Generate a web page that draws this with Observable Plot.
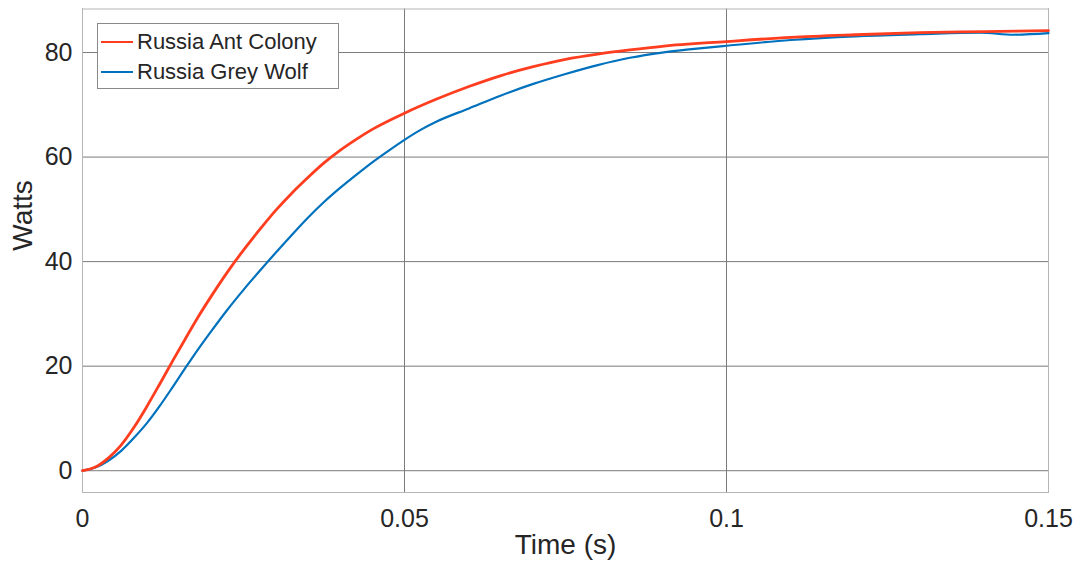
<!DOCTYPE html>
<html>
<head>
<meta charset="utf-8">
<script src="https://cdn.jsdelivr.net/npm/d3@7"></script>
<script src="https://cdn.jsdelivr.net/npm/@observablehq/plot@0.6"></script>
<style>
  html, body { margin: 0; padding: 0; background: #fff; }
  #wrap { position: relative; width: 1080px; height: 573px; font-family: "Liberation Sans", Arial, sans-serif; }
  #legend { position: absolute; left: 97px; top: 23px; width: 240px; height: 64px; border: 1px solid #8a8a8a; background: #fff; box-sizing: content-box; }
  .item { position: absolute; left: 0; height: 30px; width: 240px; }
  .sw { position: absolute; left: 3px; width: 32px; height: 2px; }
  .lab { position: absolute; left: 39px; font-size: 22px; color: #262626; line-height: 30px; white-space: nowrap; }
</style>
</head>
<body>
<div id="wrap"></div>
<script>
// ---- data ----
const seriesNames = ["Russia Ant Colony", "Russia Grey Wolf"];
const seriesColors = ["#ff3d1f", "#0072bd"];

const timeAnt  = [0, 0.002, 0.004, 0.006, 0.008, 0.010, 0.012, 0.014, 0.016, 0.018, 0.020, 0.0225, 0.025, 0.0275, 0.030, 0.0325, 0.035, 0.0375, 0.040, 0.0425, 0.045, 0.050, 0.055, 0.060, 0.065, 0.070, 0.075, 0.080, 0.085, 0.090, 0.100, 0.110, 0.120, 0.130, 0.140, 0.150];
const wattsAnt = [0, 0.7, 2.4, 4.9, 8.3, 12.3, 16.6, 21.0, 25.3, 29.5, 33.4, 38.0, 42.2, 46.1, 49.8, 53.1, 56.1, 58.9, 61.3, 63.4, 65.3, 68.4, 71.1, 73.5, 75.6, 77.3, 78.7, 79.7, 80.5, 81.2, 82.1, 82.9, 83.4, 83.8, 84.0, 84.2];

const timeWolf  = [0, 0.002, 0.004, 0.006, 0.008, 0.010, 0.012, 0.014, 0.016, 0.018, 0.020, 0.0225, 0.025, 0.0275, 0.030, 0.0325, 0.035, 0.0375, 0.040, 0.0425, 0.045, 0.0475, 0.050, 0.0525, 0.055, 0.060, 0.065, 0.070, 0.075, 0.080, 0.085, 0.090, 0.095, 0.100, 0.110, 0.120, 0.130, 0.1394, 0.1446, 0.150];
const wattsWolf = [0, 0.6, 1.9, 3.8, 6.3, 9.1, 12.4, 16.0, 19.7, 23.3, 26.7, 30.8, 34.6, 38.2, 41.7, 45.1, 48.4, 51.4, 54.1, 56.6, 59.0, 61.2, 63.3, 65.2, 66.8, 69.3, 71.8, 74.0, 75.9, 77.6, 79.0, 80.0, 80.7, 81.3, 82.4, 83.1, 83.5, 83.8, 83.4, 83.7];

const xTicks = [0, 0.05, 0.1, 0.15];
const xTickLabels = ["0", "0.05", "0.1", "0.15"];
const yTicks = [0, 20, 40, 60, 80];
const xLabel = "Time (s)";
const yLabel = "Watts";

// ---- build tables ----
const ant = timeAnt.map((t, i) => ({t, w: wattsAnt[i]}));
const wolf = timeWolf.map((t, i) => ({t, w: wattsWolf[i]}));

const textColor = "#262626";
const gridColor = "#7a7a7a";

const chart = Plot.plot({
  width: 1080,
  height: 573,
  marginLeft: 82,
  marginRight: 32,
  marginTop: 8.5,
  marginBottom: 81,
  style: {fontFamily: "'Liberation Sans', Arial, sans-serif", background: "#fff", color: textColor, overflow: "visible"},
  x: {domain: [0, 0.15], label: null},
  y: {domain: [-4.17, 88.33], label: null},
  marks: [
    Plot.gridX(xTicks, {stroke: gridColor, strokeOpacity: 1, strokeWidth: 1}),
    Plot.gridY(yTicks, {stroke: gridColor, strokeOpacity: 1, strokeWidth: 1}),
    Plot.frame({stroke: "#b5b5b5", strokeWidth: 1}),
    Plot.axisX(xTicks, {tickSize: 0, tickPadding: 17, fontSize: 25, fill: textColor, label: null,
      tickFormat: (d) => xTickLabels[xTicks.indexOf(d)]}),
    Plot.axisY(yTicks, {tickSize: 0, tickPadding: 10, fontSize: 25, fill: textColor, label: null}),
    Plot.line(wolf, {x: "t", y: "w", stroke: seriesColors[1], strokeWidth: 2.2, curve: "monotone-x"}),
    Plot.line(ant, {x: "t", y: "w", stroke: seriesColors[0], strokeWidth: 2.8, curve: "monotone-x"}),
    Plot.text([xLabel], {frameAnchor: "bottom", dy: 61, fontSize: 28, fill: textColor}),
    Plot.text([yLabel], {frameAnchor: "left", dx: -59.5, rotate: -90, fontSize: 28, fill: textColor})
  ]
});

const wrap = document.getElementById("wrap");
wrap.appendChild(chart);

// legend overlay
const legend = document.createElement("div");
legend.id = "legend";
seriesNames.forEach((name, i) => {
  const item = document.createElement("div");
  item.className = "item";
  item.style.top = (3 + i * 30) + "px";
  const sw = document.createElement("div");
  sw.className = "sw";
  sw.style.top = "14px";
  sw.style.background = seriesColors[i];
  const lab = document.createElement("div");
  lab.className = "lab";
  lab.style.top = "0px";
  lab.textContent = name;
  item.appendChild(sw);
  item.appendChild(lab);
  legend.appendChild(item);
});
wrap.appendChild(legend);
</script>
</body>
</html>
